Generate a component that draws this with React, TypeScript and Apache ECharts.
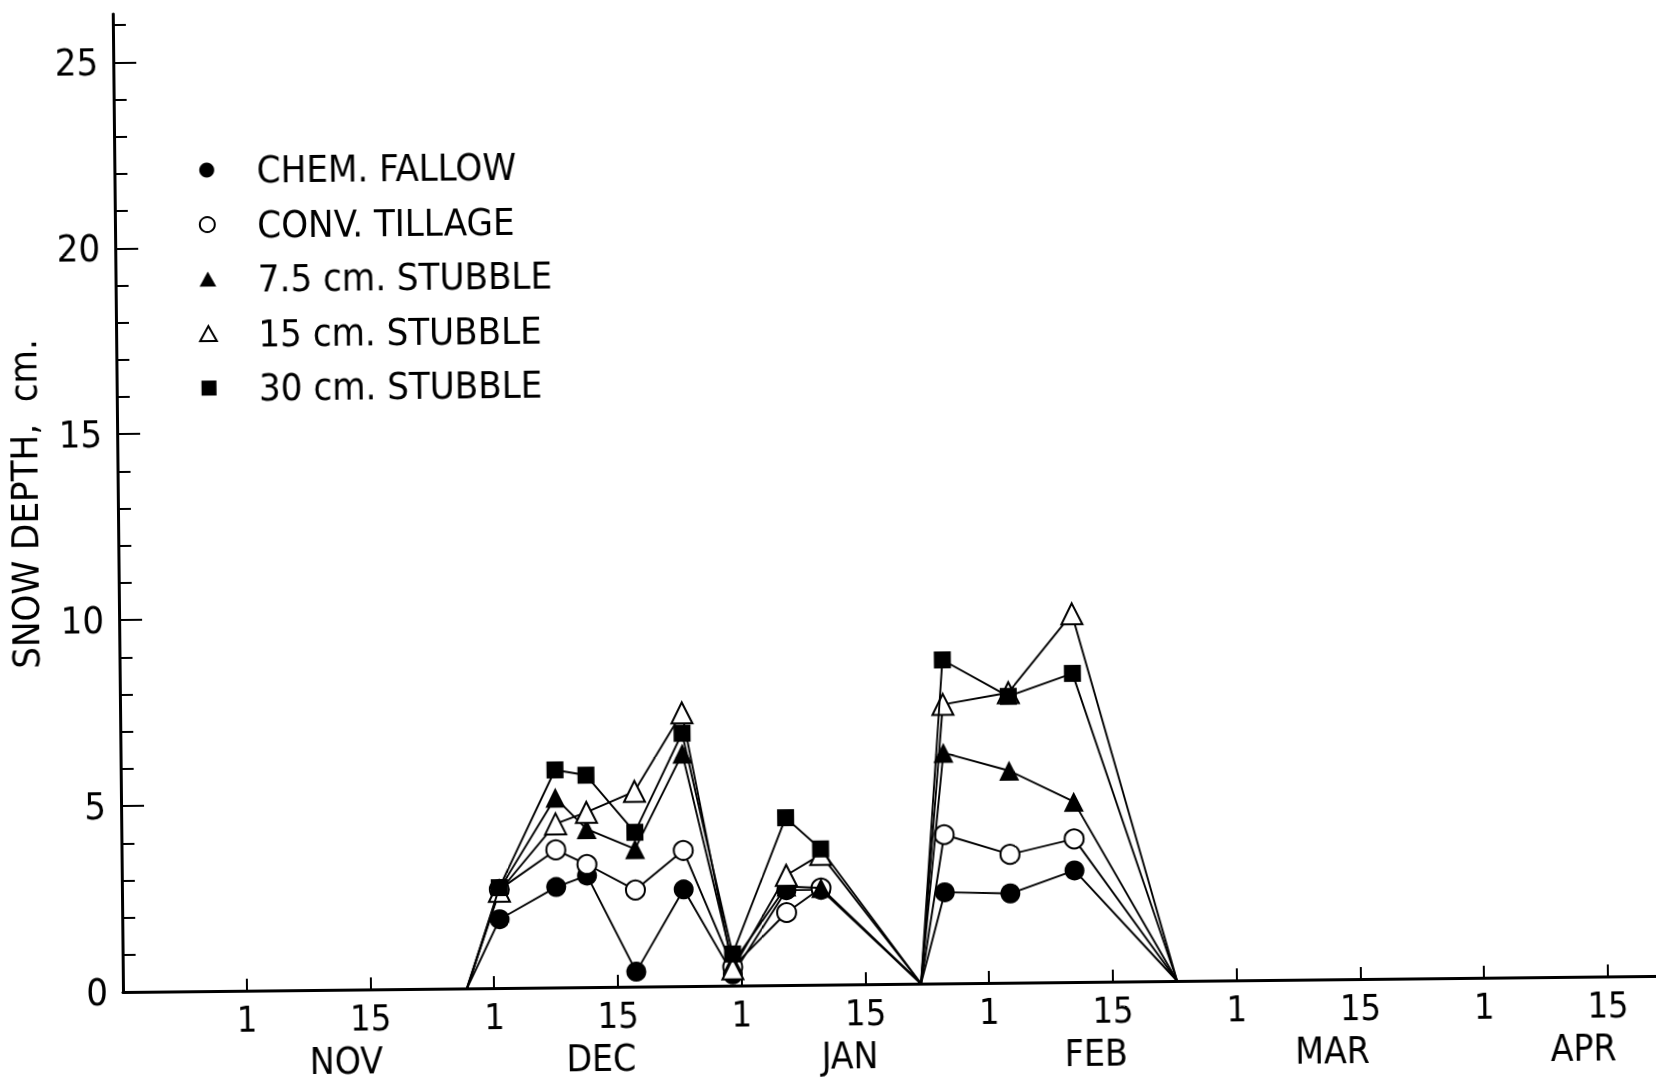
import React, { useEffect, useRef } from "react";
import * as echarts from "echarts";

// x positions in half-month units: NOV 1 = 0, NOV 15 = 1, DEC 1 = 2, ... APR 15 = 11
const xPositions = [1.78, 2.05, 2.51, 2.76, 3.15, 3.54, 3.93, 4.37, 4.65, 5.45, 5.65, 6.18, 6.7, 7.52];

const chemFallow = [0, 1.85, 2.7, 3.0, 0.4, 2.6, 0.3, 2.55, 2.55, 0, 2.45, 2.4, 3.0, 0];
const convTillage = [0, 2.65, 3.7, 3.3, 2.6, 3.65, 0.5, 1.95, 2.6, 0, 4.0, 3.45, 3.85, 0];
const stubble75 = [0, 2.65, 5.1, 4.25, 3.7, 6.25, 0.6, 2.65, 2.6, 0, 6.2, 5.7, 4.85, 0];
const stubble15 = [0, 2.6, 4.4, 4.7, 5.25, 7.35, 0.45, 2.95, 3.5, 0, 7.5, 7.8, 9.9, 0];
const stubble30 = [0, 2.7, 5.85, 5.7, 4.15, 6.8, 0.85, 4.5, 3.65, 0, 8.7, 7.7, 8.3, 0];

// points lying on the axis (no marker drawn)
const noMarker = [0, 9, 13];

const seriesNames = ["CHEM. FALLOW", "CONV. TILLAGE", "7.5 cm. STUBBLE", "15 cm. STUBBLE", "30 cm. STUBBLE"];

const dayTickValues = [0, 1, 2, 3, 4, 5, 6, 7, 8, 9, 10, 11];
const dayTickLabels = ["1", "15", "1", "15", "1", "15", "1", "15", "1", "15", "1", "15"];

const monthPositions = [0.8, 2.86, 4.87, 6.86, 8.77, 10.8];
const monthLabels = ["NOV", "DEC", "JAN", "FEB", "MAR", "APR"];

const yMinorTicks = [0, 1, 2, 3, 4, 5, 6, 7, 8, 9, 10, 11, 12, 13, 14, 15, 16, 17, 18, 19, 20, 21, 22, 23, 24, 25, 26];
const yMajorTicks = [0, 5, 10, 15, 20, 25];

const FONT = "'Liberation Sans Narrow', 'DejaVu Sans Condensed', 'Roboto', sans-serif";

const TRI = "path://M10,0L20,18L0,18Z";
const SQR = "path://M0,0L10,0L10,10L0,10Z";

function buildData(values: number[]) {
  return values.map((v, i) =>
    noMarker.includes(i) ? { value: [xPositions[i], v], symbol: "none" } : { value: [xPositions[i], v] }
  );
}

export default function App() {
  const ref = useRef<HTMLDivElement>(null);

  useEffect(() => {
    if (!ref.current) return;
    const chart = echarts.init(ref.current, undefined, { renderer: "svg" });

    const lineStyle = { color: "#000", width: 1.9 };
    const seriesDefs = [
      { values: chemFallow, symbol: "circle", size: 20 },
      { values: convTillage, symbol: "emptyCircle", size: 19 },
      { values: stubble75, symbol: "triangle", size: 20 },
      { values: stubble15, symbol: "emptyTriangle", size: 21 },
      { values: stubble30, symbol: "rect", size: 17 },
    ];

    const series = seriesDefs.map((d, i) => ({
      name: seriesNames[i],
      type: "line",
      data: buildData(d.values),
      symbol: d.symbol,
      symbolSize: d.size,
      showAllSymbol: true,
      lineStyle,
      itemStyle: { color: "#000", borderColor: "#000", borderWidth: d.symbol.startsWith("empty") ? 2 : 0 },
      emphasis: { disabled: true },
      z: 2 + i,
    }));

    const legendData = [
      { name: seriesNames[0], icon: "circle", itemStyle: { color: "#000", borderWidth: 0 } },
      { name: seriesNames[1], icon: "circle", itemStyle: { color: "#fff", borderColor: "#000", borderWidth: 2 } },
      { name: seriesNames[2], icon: TRI, itemStyle: { color: "#000", borderWidth: 0 } },
      { name: seriesNames[3], icon: TRI, itemStyle: { color: "#fff", borderColor: "#000", borderWidth: 2 } },
      { name: seriesNames[4], icon: SQR, itemStyle: { color: "#000", borderWidth: 0 } },
    ];

    chart.setOption({
      animation: false,
      backgroundColor: "#fff",
      textStyle: { fontFamily: FONT },
      legend: {
        orient: "vertical",
        left: 201,
        top: 147,
        itemWidth: 90,
        itemHeight: 15,
        itemGap: 16.5,
        symbolKeepAspect: true,
        data: legendData,
        selectedMode: false,
        textStyle: { fontSize: 38, color: "#000", fontFamily: FONT },
        lineStyle: { width: 0 },
      },
      grid: { left: 123, right: 0, top: 14, bottom: 94 },
      xAxis: [
        {
          type: "value",
          min: -1,
          max: 11.39,
          position: "bottom",
          axisLine: { onZero: false, lineStyle: { color: "#000", width: 3 } },
          axisTick: { inside: true, length: 12, customValues: dayTickValues, lineStyle: { color: "#000", width: 2 } },
          axisLabel: {
            customValues: dayTickValues,
            margin: 10,
            fontSize: 36,
            color: "#000",
            fontFamily: FONT,
            formatter: (v: number) => {
              const i = dayTickValues.indexOf(Math.round(v));
              return i >= 0 && Math.abs(v - Math.round(v)) < 1e-6 ? dayTickLabels[i] : "";
            },
          },
          splitLine: { show: false },
        },
        {
          type: "value",
          min: -1,
          max: 11.39,
          position: "bottom",
          axisLine: { show: false },
          axisTick: { show: false },
          axisLabel: {
            customValues: monthPositions,
            margin: 53,
            fontSize: 37,
            color: "#000",
            fontFamily: FONT,
            formatter: (v: number) => {
              const i = monthPositions.findIndex((m) => Math.abs(m - v) < 1e-6);
              return i >= 0 ? monthLabels[i] : "";
            },
          },
          splitLine: { show: false },
        },
      ],
      yAxis: [
        {
          type: "value",
          min: 0,
          max: 26.3,
          position: "left",
          name: "SNOW DEPTH,  cm.",
          nameLocation: "middle",
          nameRotate: 90,
          nameGap: 74,
          nameTextStyle: { fontSize: 38, color: "#000", fontFamily: FONT },
          axisLine: { onZero: false, lineStyle: { color: "#000", width: 3 } },
          axisTick: { inside: true, length: 13, customValues: yMinorTicks, lineStyle: { color: "#000", width: 2 } },
          axisLabel: { show: false },
          splitLine: { show: false },
        },
        {
          type: "value",
          min: 0,
          max: 26.3,
          position: "left",
          axisLine: { show: false, onZero: false },
          axisTick: { inside: true, length: 23, customValues: yMajorTicks, lineStyle: { color: "#000", width: 2 } },
          axisLabel: {
            customValues: yMajorTicks,
            margin: 15,
            fontSize: 38,
            color: "#000",
            fontFamily: FONT,
          },
          splitLine: { show: false },
        },
      ],
      series,
    });

    return () => chart.dispose();
  }, []);

  return (
    <div
      ref={ref}
      style={{
        position: "fixed",
        left: 0,
        top: 0,
        width: 1656,
        height: 1086,
        background: "#fff",
        transform: "rotate(-0.6deg)",
        transformOrigin: "123px 992px",
      }}
    />
  );
}
